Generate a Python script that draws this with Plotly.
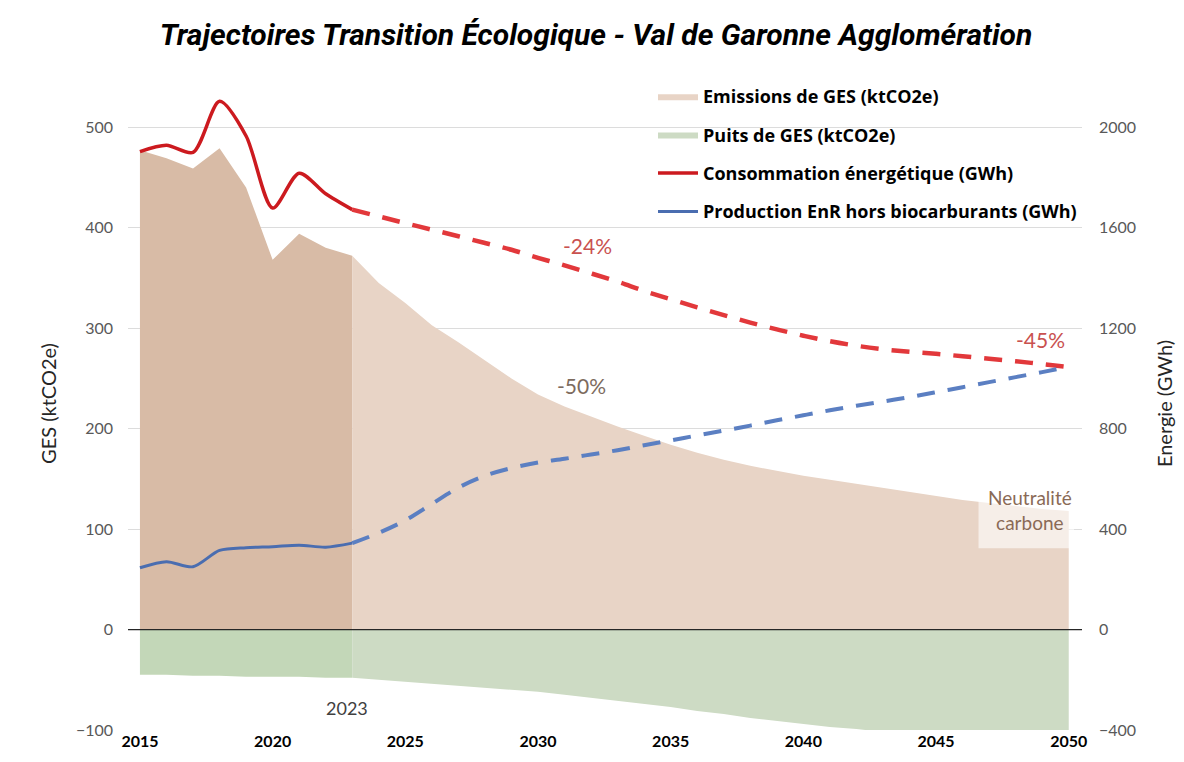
import plotly.graph_objects as go

# ---------------- data ----------------
years_hist = [2015, 2016, 2017, 2018, 2019, 2020, 2021, 2022, 2023]
years_proj = list(range(2023, 2051))

emissions_hist = [477, 469, 459, 479, 440, 368, 394, 380, 372]
emissions_proj = [372, 345, 325, 303, 286, 268, 250, 234, 222, 212, 202, 193, 184,
                  176, 169, 163, 158, 153, 149, 145, 141, 137, 133, 129, 126, 123, 120, 118]

sinks_hist = [-45, -45, -46, -46, -47, -47, -47, -48, -48]
sinks_proj = [-48, -50, -52, -54, -56, -58, -60, -62, -65, -68, -71, -74, -77,
              -81, -84, -88, -91, -94, -97, -99, -102, -104, -107, -109, -111, -113, -115, -117]

conso_hist = [1903, 1928, 1900, 2103, 1965, 1678, 1817, 1735, 1672]
conso_proj = [1672, 1645, 1618, 1592, 1566, 1539, 1512, 1480, 1450, 1418, 1385, 1348, 1315,
              1283, 1252, 1222, 1195, 1170, 1148, 1130, 1116, 1106, 1098, 1088, 1078, 1068, 1057, 1045]

enr_hist = [246, 270, 250, 315, 326, 330, 336, 328, 344]
enr_proj = [344, 385, 435, 500, 565, 612, 643, 665, 680, 697, 714, 734, 753,
            773, 792, 812, 833, 853, 873, 891, 908, 925, 945, 965, 985, 1005, 1025, 1046]

x_ticks = [2015, 2020, 2025, 2030, 2035, 2040, 2045, 2050]
left_ticks = [-100, 0, 100, 200, 300, 400, 500]
right_ticks = [-400, 0, 400, 800, 1200, 1600, 2000]

FONT = "Lato"
LEG_FONT = "Open Sans"

# page is rendered with an 8px body margin
W, H = 1176, 754
L, R, T, B = 120, 102, 69, 32

fig = go.Figure()

# Areas (left axis)
fig.add_trace(go.Scatter(x=years_hist, y=emissions_hist, mode="lines", fill="tozeroy",
                         line=dict(width=0), fillcolor="rgb(216,187,166)",
                         name="Emissions de GES (ktCO2e)", legendgroup="a", showlegend=False,
                         hoverinfo="skip"))
fig.add_trace(go.Scatter(x=years_proj, y=emissions_proj, mode="lines", fill="tozeroy",
                         line=dict(width=0, color="rgb(244,216,198)"), fillcolor="rgb(232,212,198)",
                         name="Emissions de GES (ktCO2e)", legendgroup="a", legendrank=1))
fig.add_trace(go.Scatter(x=years_hist, y=sinks_hist, mode="lines", fill="tozeroy",
                         line=dict(width=0), fillcolor="rgb(195,215,184)",
                         name="Puits de GES (ktCO2e)", legendgroup="b", showlegend=False,
                         hoverinfo="skip"))
fig.add_trace(go.Scatter(x=years_proj, y=sinks_proj, mode="lines", fill="tozeroy",
                         line=dict(width=0, color="rgb(210,226,200)"), fillcolor="rgb(205,219,196)",
                         name="Puits de GES (ktCO2e)", legendgroup="b", legendrank=2))

# Lines (right axis)
fig.add_trace(go.Scatter(x=years_hist, y=conso_hist, mode="lines", yaxis="y2",
                         line=dict(color="#cc1a1f", width=3.5, shape="spline", smoothing=0.8),
                         name="Consommation énergétique (GWh)", legendgroup="c", legendrank=3))
fig.add_trace(go.Scatter(x=years_proj, y=conso_proj, mode="lines", yaxis="y2",
                         line=dict(color="#e2383b", width=4.5, dash="18px,13px", shape="spline"),
                         name="Consommation énergétique (GWh)", legendgroup="c", showlegend=False))
fig.add_trace(go.Scatter(x=years_hist, y=enr_hist, mode="lines", yaxis="y2",
                         line=dict(color="#4a6db0", width=3, shape="spline", smoothing=0.8),
                         name="Production EnR hors biocarburants (GWh)", legendgroup="d", legendrank=4))
fig.add_trace(go.Scatter(x=years_proj, y=enr_proj, mode="lines", yaxis="y2",
                         line=dict(color="#5b7fc2", width=4, dash="18px,13px", shape="spline"),
                         name="Production EnR hors biocarburants (GWh)", legendgroup="d", showlegend=False))

# white panel behind legend (hides gridlines there)
fig.add_shape(type="rect", xref="paper", yref="paper", x0=(632 - L) / 954, x1=1.0,
              y0=0.758, y1=1.0, fillcolor="white", line=dict(width=0), layer="between")

# zero line above areas
fig.add_shape(type="line", xref="paper", yref="y", x0=0, x1=1, y0=0, y1=0,
              line=dict(color="#262626", width=1.3), layer="above")

# Neutralité box
fig.add_shape(type="rect", xref="x", yref="y", x0=2046.6, x1=2050.2, y0=81, y1=151,
              fillcolor="rgba(255,255,255,0.6)", line=dict(width=0), layer="above")

annotations = [
    dict(x=2031.85, y=1530, yref="y2", text="-24%", showarrow=False,
         font=dict(family=FONT, size=21, color="#c9514f")),
    dict(x=2048.95, y=1155, yref="y2", text="-45%", showarrow=False,
         font=dict(family=FONT, size=21, color="#c9514f")),
    dict(x=2031.65, y=243, yref="y", text="-50%", showarrow=False, bgcolor="white",
         font=dict(family=FONT, size=21, color="#7d6b5e")),
    dict(x=2048.55, y=119, yref="y", text="Neutralité<br>carbone", showarrow=False,
         font=dict(family=FONT, size=19, color="#8a6a56"), align="center"),
    dict(x=2022.8, y=-78, yref="y", text="2023", showarrow=False,
         font=dict(family=FONT, size=18, color="#404040")),
]

fig.update_layout(
    width=W, height=H,
    margin=dict(l=L, r=R, t=T, b=B),
    paper_bgcolor="white", plot_bgcolor="white",
    title=dict(text="<b><i>Trajectoires Transition Écologique - Val de Garonne Agglomération</i></b>",
               x=0.5, xanchor="center", y=1 - 26 / H, yanchor="middle",
               font=dict(family="Roboto", size=30, color="black")),
    xaxis=dict(range=[2014.55, 2050.5], tickvals=x_ticks, showgrid=False, zeroline=False,
               showline=False, ticks="", automargin=False,
               tickfont=dict(family=FONT, size=16, color="black", weight="bold")),
    yaxis=dict(range=[-100, 550], tickvals=left_ticks, showgrid=True, gridcolor="#dcdcdc",
               gridwidth=1, zeroline=False, showline=False, ticks="", automargin=False,
               ticklabelstandoff=14,
               tickfont=dict(family=FONT, size=16, color="#595959"),
               title=dict(text="GES (ktCO2e)", standoff=13,
                          font=dict(family=FONT, size=20, color="#262626"))),
    yaxis2=dict(range=[-400, 2200], tickvals=right_ticks, overlaying="y", side="right",
                showgrid=False, zeroline=False, showline=False, ticks="", automargin=False,
                ticklabelstandoff=16,
                tickfont=dict(family=FONT, size=16, color="#595959"),
                title=dict(text="Energie (GWh)", standoff=22,
                           font=dict(family=FONT, size=20, color="#262626"))),
    legend=dict(x=(645 - L) / 954, y=1.0 - 1 / 653, xanchor="left", yanchor="top",
                bgcolor="rgba(0,0,0,0)",
                traceorder="grouped", tracegroupgap=12, itemwidth=40,
                font=dict(family=LEG_FONT, size=18, color="black", weight="bold")),
    annotations=annotations,
    showlegend=True,
)

fig.write_html("out.html")
